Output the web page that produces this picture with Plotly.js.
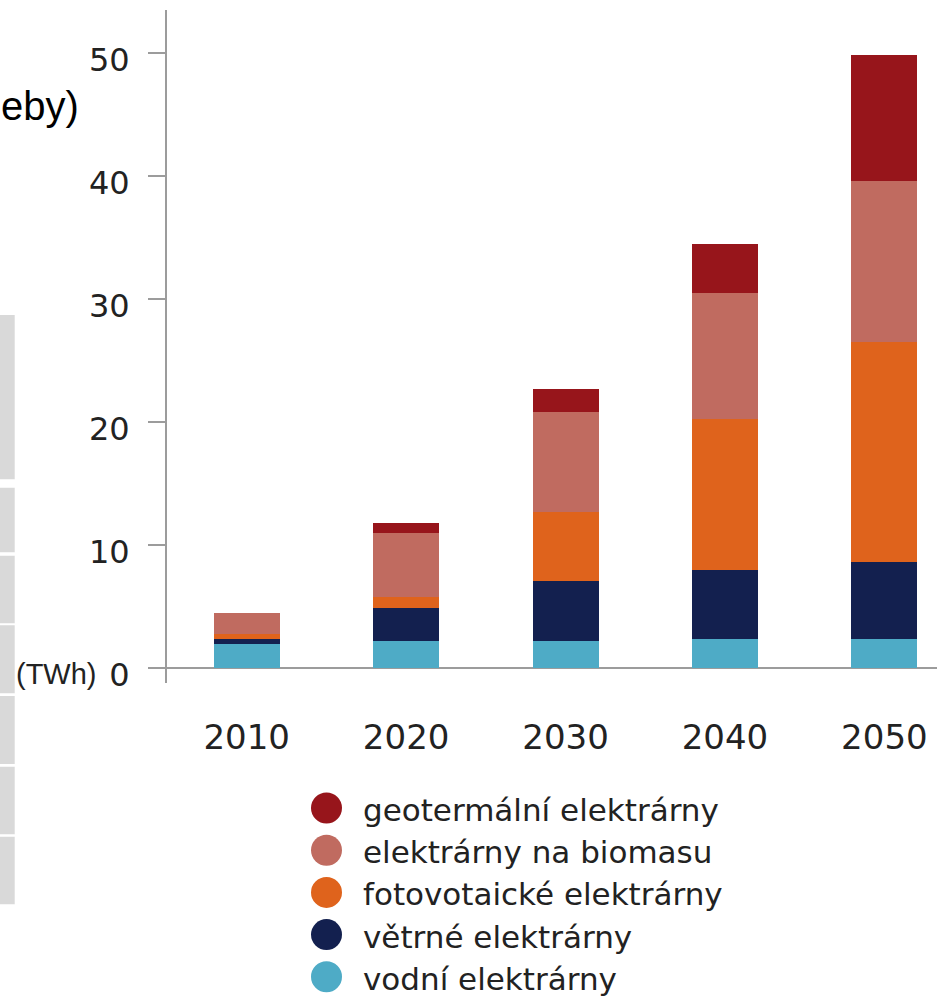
<!DOCTYPE html>
<html>
<head>
<meta charset="utf-8">
<script src="https://cdn.plot.ly/plotly-3.0.1.min.js"></script>
<style>
  html, body { margin: 0; padding: 0; background: #ffffff; }
  #chart { width: 937px; height: 1001px; }
</style>
</head>
<body>
<div id="chart"></div>
<script>
// Electricity from renewable sources (TWh), stacked by source
const years = ['2010', '2020', '2030', '2040', '2050'];
const hydro      = [2.0, 2.2, 2.2, 2.4, 2.4];
const wind       = [0.4, 2.7, 4.9, 5.6, 6.2];
const solar      = [0.4, 0.9, 5.6, 12.3, 17.9];
const biomass    = [1.7, 5.2, 8.1, 10.2, 13.1];
const geothermal = [0.0, 0.8, 1.9, 4.0, 10.3];
const yTicks = [0, 10, 20, 30, 40, 50];
const unitLabel = '(TWh)';
const headingTail = 'eby)';

// stacking order, bottom to top
const series = [
  { name: 'vodní elektrárny',        values: hydro,      color: '#4eabc6' },
  { name: 'větrné elektrárny',       values: wind,       color: '#13204f' },
  { name: 'fotovotaické elektrárny', values: solar,      color: '#df631c' },
  { name: 'elektrárny na biomasu',   values: biomass,    color: '#c06b60' },
  { name: 'geotermální elektrárny',  values: geothermal, color: '#97151b' }
];

// page geometry
const W = 937, H = 1001;
const M = { l: 167, r: 0, t: 10, b: 318 };
const plotW = W - M.l - M.r, plotH = H - M.t - M.b;
const px = x => (x - M.l) / plotW;
const py = y => (H - M.b - y) / plotH;

const axisGrey = '#9c9c9c';
const textCol = '#222222';

const traces = series.map(s => ({
  type: 'bar',
  name: s.name,
  x: years,
  y: s.values,
  marker: { color: s.color, line: { width: 0 } },
  showlegend: false,
  hoverinfo: 'skip'
}));

const shapes = [];
const annotations = [];

// legend: round swatches, top entry is the top of the stack
const legendItems = series.slice().reverse();
legendItems.forEach((s, i) => {
  const cy = 808 + i * 42.2;
  shapes.push({
    type: 'circle', xref: 'paper', yref: 'paper',
    x0: px(311), x1: px(342), y0: py(cy + 15.5), y1: py(cy - 15.5),
    fillcolor: s.color, line: { width: 0 }
  });
  annotations.push({
    xref: 'paper', yref: 'paper', x: px(361), y: py(cy + 2),
    xanchor: 'left', yanchor: 'middle', showarrow: false,
    text: s.name,
    font: { family: 'DejaVu Sans', size: 31, color: textCol }
  });
});

// grey table cells on the left margin
const cellRows = [[315, 479.3], [487.7, 552.3], [555.7, 623.3], [625.3, 693.3],
                  [696, 764], [766.7, 834.3], [836.7, 904.3]];
cellRows.forEach(r => {
  shapes.push({
    type: 'rect', xref: 'paper', yref: 'paper', layer: 'below',
    x0: px(-2), x1: px(14.7), y0: py(r[1]), y1: py(r[0]),
    fillcolor: '#d9d9d9', line: { width: 0 }
  });
});

// unit label next to the zero tick
annotations.push({
  xref: 'paper', yref: 'paper', x: px(99), y: py(674),
  xanchor: 'right', yanchor: 'middle', showarrow: false,
  text: unitLabel,
  font: { family: 'Liberation Sans', size: 29, color: textCol }
});

// tail of the page heading
annotations.push({
  xref: 'paper', yref: 'paper', x: px(81), y: py(106),
  xanchor: 'right', yanchor: 'middle', showarrow: false,
  text: headingTail,
  font: { family: 'Liberation Sans', size: 40, color: '#000000' }
});

const layout = {
  width: W, height: H,
  margin: M,
  paper_bgcolor: '#ffffff',
  plot_bgcolor: '#ffffff',
  barmode: 'stack',
  bargap: 0.586,
  showlegend: false,
  xaxis: {
    type: 'category',
    range: [-0.5, 4.33],
    showline: false, showgrid: false, zeroline: false,
    ticks: '',
    ticklabelstandoff: 31,
    tickfont: { family: 'DejaVu Sans', size: 34, color: textCol },
    automargin: false, fixedrange: true
  },
  yaxis: {
    range: [-1.2, 53.52],
    tickmode: 'array', tickvals: yTicks, ticktext: yTicks.map(String),
    ticks: 'outside', ticklen: 17, tickwidth: 2, tickcolor: axisGrey,
    showline: true, linecolor: axisGrey, linewidth: 2,
    zeroline: true, zerolinecolor: axisGrey, zerolinewidth: 2,
    showgrid: false,
    ticklabelstandoff: 12,
    ticklabelshift: 7,
    tickfont: { family: 'DejaVu Sans', size: 32, color: textCol },
    automargin: false, fixedrange: true
  },
  shapes: shapes,
  annotations: annotations
};

Plotly.newPlot('chart', traces, layout, { staticPlot: true, displayModeBar: false });
</script>
</body>
</html>
